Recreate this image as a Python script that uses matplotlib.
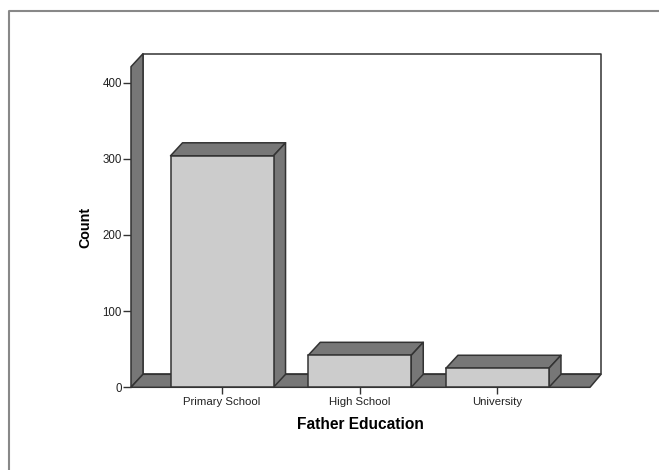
import matplotlib
matplotlib.use("Agg")
import matplotlib.pyplot as plt
from matplotlib.lines import Line2D
from matplotlib.patches import Polygon

categories = ["Primary School", "High School", "University"]
counts = [304, 42, 25]
y_ticks = [0, 100, 200, 300, 400]

FRONT = "#cccccc"
DARK = "#777777"
EDGE = "#333333"

W, H = 659, 470
plt.rcParams["font.family"] = ["Liberation Sans", "DejaVu Sans"]
fig = plt.figure(figsize=(W / 100, H / 100), dpi=100)

# border along the top and left only
fig.add_artist(Line2D([8.5 / W, 8.5 / W, 1], [0, 1 - 10.5 / H, 1 - 10.5 / H],
                      transform=fig.transFigure, color="#888888", linewidth=1.5))

ax = fig.add_axes([131 / W, 1 - 387.3 / H, 459 / W, 320.6 / H])
ax.set_xlim(-0.661, 2.672)
ax.set_ylim(0, 421)
ax.patch.set_visible(False)
for s in ax.spines.values():
    s.set_visible(False)

# depth of the fake 3d box, in data units
dx = 12 / 137.7
dy = 13 / 0.7615
x0, x1 = ax.get_xlim()
y1 = ax.get_ylim()[1]


def poly(pts, fc, z):
    ax.add_patch(Polygon(pts, closed=True, facecolor=fc, edgecolor=EDGE, linewidth=1.1,
                         joinstyle="round", zorder=z, clip_on=False))


# back wall, side wall and floor
wall_r = x1 + dx * 0.92
poly([(x0 + dx, dy), (wall_r, dy), (wall_r, y1 + dy), (x0 + dx, y1 + dy)], "white", 1)
poly([(x0, 0), (x0 + dx, dy), (x0 + dx, y1 + dy), (x0, y1)], DARK, 2)
poly([(x0, 0), (x1, 0), (wall_r, dy), (x0 + dx, dy)], DARK, 2)

# bars with top and side faces
bar_w = 0.748
for i, c in enumerate(counts):
    l, r = i - bar_w / 2, i + bar_w / 2
    ax.bar(i, c, width=bar_w, color=FRONT, edgecolor=EDGE, linewidth=1.1, zorder=4)
    poly([(l, c), (r, c), (r + dx, c + dy), (l + dx, c + dy)], DARK, 3)
    poly([(r, 0), (r + dx, dy), (r + dx, c + dy), (r, c)], DARK, 3)

ax.set_xticks(range(len(categories)))
ax.set_xticklabels(categories, fontsize=8.2, color="#222222")
ax.set_yticks(y_ticks)
ax.tick_params(axis="x", length=5, width=1, color=EDGE, pad=2.2)
ax.tick_params(axis="y", length=5.5, width=1, color=EDGE, pad=1, labelsize=8.3, labelcolor="#222222")

ax.set_xlabel("Father Education", fontsize=11.2, fontweight="bold")
ax.set_ylabel("Count", fontsize=10.3, fontweight="bold")
ax.xaxis.set_label_coords((360 - 131) / 459, -30 / 320.6)
ax.yaxis.set_label_coords(-39 / 459, 0.5)

fig.savefig("out.png", dpi=100)
